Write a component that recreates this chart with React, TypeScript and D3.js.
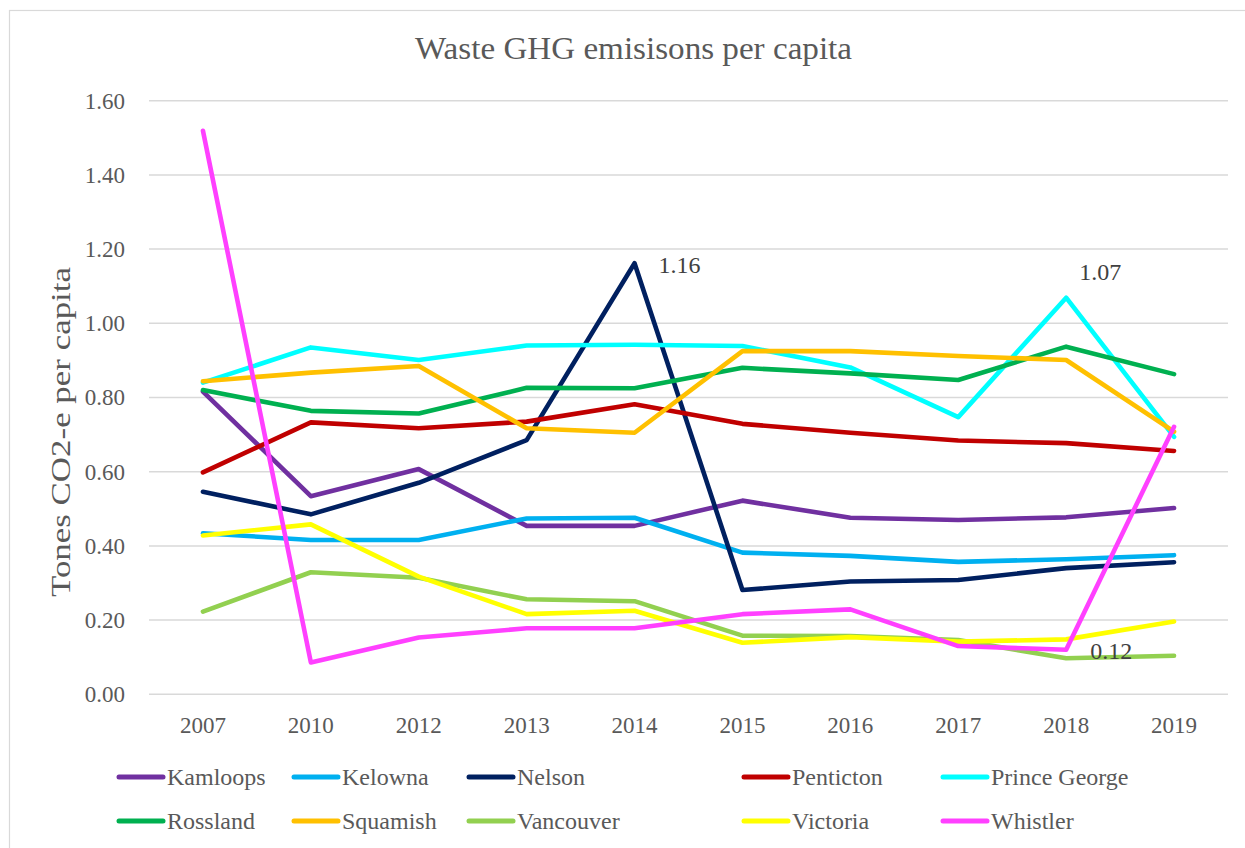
import React from "react";
import * as d3 from "d3";

const years = ["2007", "2010", "2012", "2013", "2014", "2015", "2016", "2017", "2018", "2019"];
const yTicks = [0, 0.2, 0.4, 0.6, 0.8, 1.0, 1.2, 1.4, 1.6];

const kamloops = [0.816, 0.534, 0.607, 0.454, 0.454, 0.522, 0.476, 0.47, 0.477, 0.502];
const kelowna = [0.434, 0.416, 0.416, 0.474, 0.476, 0.382, 0.373, 0.357, 0.364, 0.375];
const nelson = [0.546, 0.485, 0.57, 0.685, 1.162, 0.281, 0.304, 0.308, 0.34, 0.356];
const penticton = [0.598, 0.733, 0.717, 0.735, 0.782, 0.729, 0.705, 0.684, 0.677, 0.656];
const princeGeorge = [0.84, 0.935, 0.901, 0.94, 0.942, 0.939, 0.881, 0.747, 1.069, 0.694];
const rossland = [0.82, 0.764, 0.757, 0.826, 0.825, 0.88, 0.865, 0.847, 0.937, 0.863];
const squamish = [0.844, 0.867, 0.885, 0.717, 0.705, 0.925, 0.925, 0.912, 0.901, 0.708];
const vancouver = [0.223, 0.329, 0.314, 0.256, 0.251, 0.158, 0.157, 0.146, 0.097, 0.104];
const victoria = [0.428, 0.458, 0.317, 0.216, 0.225, 0.139, 0.154, 0.142, 0.148, 0.196];
const whistler = [1.519, 0.086, 0.153, 0.178, 0.178, 0.216, 0.229, 0.13, 0.12, 0.721];

const seriesNames = ["Kamloops", "Kelowna", "Nelson", "Penticton", "Prince George", "Rossland", "Squamish", "Vancouver", "Victoria", "Whistler"];
const seriesValues = [kamloops, kelowna, nelson, penticton, princeGeorge, rossland, squamish, vancouver, victoria, whistler];
const seriesColors = ["#7030A0", "#00B0F0", "#002060", "#C00000", "#00FFFF", "#00B050", "#FFC000", "#92D050", "#FFFF00", "#FF40FF"];

// data labels: series index, year index
const dataLabels = [
  { s: 2, i: 4, dx: 24, dy: 10 },
  { s: 4, i: 8, dx: 13, dy: -18 },
  { s: 9, i: 8, dx: 24, dy: 9 },
];

const W = 1245;
const H = 848;
const FONT = "'Liberation Serif', 'Times New Roman', serif";
const TEXT = "#595959";
const GRID = "#D9D9D9";

const plotLeft = 149;
const plotRight = 1228;
const plotTop = 100.7;
const plotBottom = 694.3;

const legendCols = [117, 292, 467, 742, 941];
const legendRows = [777, 821];

export default function App() {
  const x = d3.scaleBand<string>().domain(years).range([plotLeft, plotRight]).padding(0);
  const y = d3.scaleLinear().domain([0, 1.6]).range([plotBottom, plotTop]);
  const cx = (yr: string) => (x(yr) as number) + x.bandwidth() / 2;

  const line = d3
    .line<number>()
    .x((_, i) => cx(years[i]))
    .y((v) => y(v));

  return (
    <svg width={W} height={H} style={{ position: "absolute", left: 0, top: 0, background: "#fff" }} fontFamily={FONT}>
      <rect x={0} y={0} width={W} height={H} fill="#fff" />
      <rect x={9.5} y={10.5} width={W + 20} height={H + 20} fill="none" stroke={GRID} strokeWidth={1.2} />

      <text x={633.5} y={59} textAnchor="middle" fontSize={31} fill={TEXT} textLength={437} lengthAdjust="spacingAndGlyphs">
        Waste GHG emisisons per capita
      </text>

      <text
        transform={`translate(70, 432) rotate(-90)`}
        textAnchor="middle"
        fontSize={27}
        fill={TEXT}
        textLength={330}
        lengthAdjust="spacingAndGlyphs"
      >
        Tones CO2-e per capita
      </text>

      {yTicks.map((t) => (
        <g key={t}>
          <line x1={plotLeft} x2={plotRight} y1={y(t)} y2={y(t)} stroke={GRID} strokeWidth={1.5} />
          <text x={125} y={y(t)} dy="0.34em" textAnchor="end" fontSize={23} fill={TEXT}>
            {d3.format(".2f")(t)}
          </text>
        </g>
      ))}

      {years.map((yr) => (
        <text key={yr} x={cx(yr)} y={733} textAnchor="middle" fontSize={23} fill={TEXT}>
          {yr}
        </text>
      ))}

      {seriesValues.map((vals, si) => (
        <path
          key={seriesNames[si]}
          d={line(vals) as string}
          fill="none"
          stroke={seriesColors[si]}
          strokeWidth={4.6}
          strokeLinejoin="round"
          strokeLinecap="round"
        />
      ))}

      {dataLabels.map((l, k) => {
        const v = seriesValues[l.s][l.i];
        return (
          <text key={k} x={cx(years[l.i]) + l.dx} y={y(v) + l.dy} fontSize={24} fill="#404040">
            {d3.format(".2f")(v)}
          </text>
        );
      })}

      {seriesNames.map((name, si) => {
        const col = si % 5;
        const row = Math.floor(si / 5);
        const lx = legendCols[col];
        const ly = legendRows[row];
        return (
          <g key={name}>
            <line x1={lx + 2} x2={lx + 46} y1={ly} y2={ly} stroke={seriesColors[si]} strokeWidth={5} strokeLinecap="round" />
            <text x={lx + 50} y={ly} dy="0.34em" fontSize={24} fill={TEXT}>
              {name}
            </text>
          </g>
        );
      })}
    </svg>
  );
}
